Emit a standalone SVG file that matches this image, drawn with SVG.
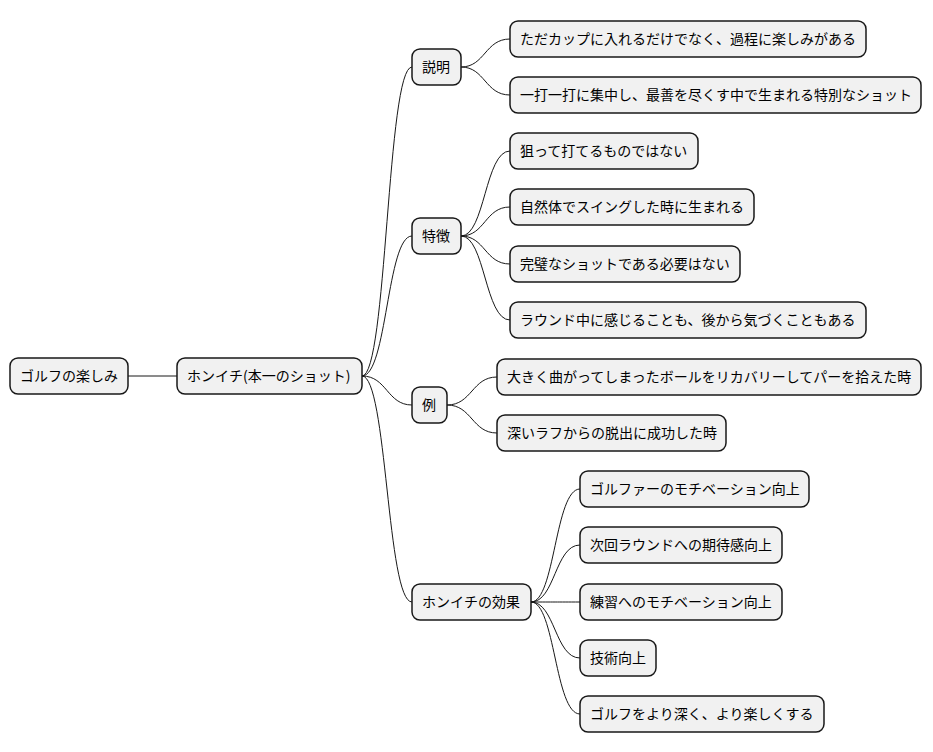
<svg xmlns="http://www.w3.org/2000/svg" width="933" height="752" viewBox="0 0 933 752">
<style>
rect{fill:#F1F1F1;stroke:#181818;stroke-width:1.5}
text{font-family:"Noto Sans CJK JP","Noto Sans",sans-serif;font-size:14px;fill:#000}
#connectors path{fill:none;stroke:#181818;stroke-width:1}
</style>
<rect width="933" height="752" style="fill:#fff;stroke:none"/>
<g id="connectors">
<path d="M128,376 L177,376"/>
<path d="M362,376 C387,376 387,67 412,67"/>
<path d="M362,376 C387,376 387,236 412,236"/>
<path d="M362,376 C387,376 387,405 412,405"/>
<path d="M362,376 C387,376 387,602 412,602"/>
<path d="M461,67 C485,67 485,39 510,39"/>
<path d="M461,67 C485,67 485,95 510,95"/>
<path d="M461,236 C485,236 485,151 510,151"/>
<path d="M461,236 C485,236 485,207 510,207"/>
<path d="M461,236 C485,236 485,264 510,264"/>
<path d="M461,236 C485,236 485,320 510,320"/>
<path d="M447,405 C472,405 472,377 497,377"/>
<path d="M447,405 C472,405 472,433 497,433"/>
<path d="M531,602 C555,602 555,489 580,489"/>
<path d="M531,602 C555,602 555,545 580,545"/>
<path d="M531,602 C555,602 555,602 580,602"/>
<path d="M531,602 C555,602 555,658 580,658"/>
<path d="M531,602 C555,602 555,714 580,714"/>
</g>
<g id="root"><rect x="10" y="358" width="118" height="36" rx="8"/><text x="20" y="381">ゴルフの楽しみ</text></g>
<g id="honichi"><rect x="177" y="358" width="185" height="36" rx="8"/><text x="187" y="381">ホンイチ(本一のショット)</text></g>
<g id="setsumei"><rect x="412" y="49" width="49" height="36" rx="8"/><text x="422" y="72">説明</text></g>
<g id="tokucho"><rect x="412" y="218" width="49" height="36" rx="8"/><text x="422" y="241">特徴</text></g>
<g id="rei"><rect x="412" y="387" width="35" height="36" rx="8"/><text x="422" y="410">例</text></g>
<g id="koka"><rect x="412" y="584" width="119" height="36" rx="8"/><text x="422" y="607">ホンイチの効果</text></g>
<g id="s1"><rect x="510" y="21" width="356" height="36" rx="8"/><text x="520" y="44">ただカップに入れるだけでなく、過程に楽しみがある</text></g>
<g id="s2"><rect x="510" y="77" width="411" height="36" rx="8"/><text x="520" y="100">一打一打に集中し、最善を尽くす中で生まれる特別なショット</text></g>
<g id="t1"><rect x="510" y="133" width="188" height="36" rx="8"/><text x="520" y="156">狙って打てるものではない</text></g>
<g id="t2"><rect x="510" y="189" width="244" height="36" rx="8"/><text x="520" y="212">自然体でスイングした時に生まれる</text></g>
<g id="t3"><rect x="510" y="246" width="230" height="36" rx="8"/><text x="520" y="269">完璧なショットである必要はない</text></g>
<g id="t4"><rect x="510" y="302" width="356" height="36" rx="8"/><text x="520" y="325">ラウンド中に感じることも、後から気づくこともある</text></g>
<g id="r1"><rect x="497" y="359" width="424" height="36" rx="8"/><text x="507" y="382">大きく曲がってしまったボールをリカバリーしてパーを拾えた時</text></g>
<g id="r2"><rect x="497" y="415" width="229" height="36" rx="8"/><text x="507" y="438">深いラフからの脱出に成功した時</text></g>
<g id="k1"><rect x="580" y="471" width="229" height="36" rx="8"/><text x="590" y="494">ゴルファーのモチベーション向上</text></g>
<g id="k2"><rect x="580" y="527" width="202" height="36" rx="8"/><text x="590" y="550">次回ラウンドへの期待感向上</text></g>
<g id="k3"><rect x="580" y="584" width="202" height="36" rx="8"/><text x="590" y="607">練習へのモチベーション向上</text></g>
<g id="k4"><rect x="580" y="640" width="76" height="36" rx="8"/><text x="590" y="663">技術向上</text></g>
<g id="k5"><rect x="580" y="696" width="244" height="36" rx="8"/><text x="590" y="719">ゴルフをより深く、より楽しくする</text></g>
</svg>
